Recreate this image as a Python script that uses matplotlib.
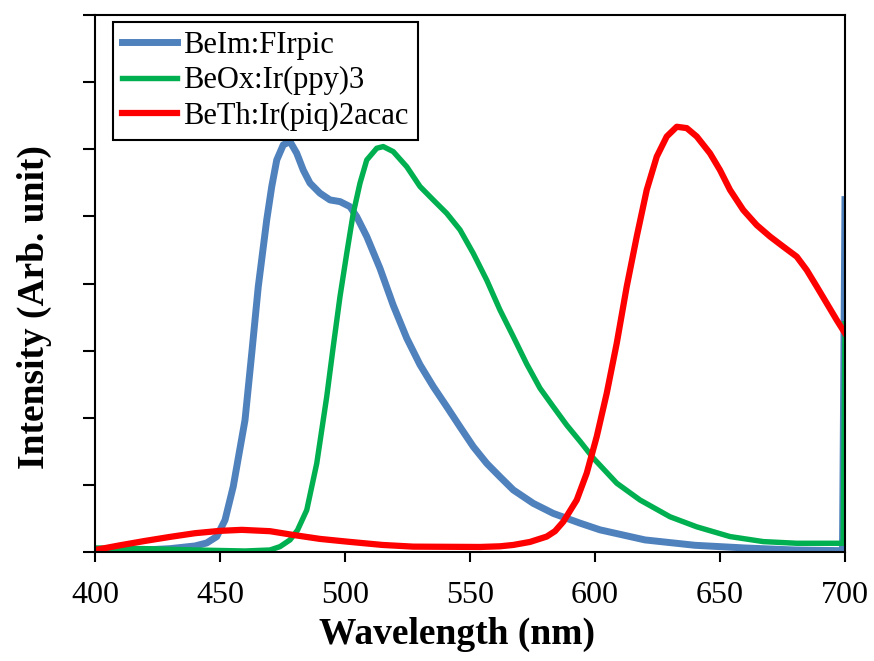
import numpy as np
import matplotlib
matplotlib.use("Agg")
import matplotlib.pyplot as plt

# ============================================================
# DATA (intensity in arbitrary units)
# ============================================================

wl_blue = [400, 420, 430, 440, 444.7, 448.7, 452, 455.3, 460, 462.7, 465.3, 468.7,
           470.7, 472.7, 475.3, 478, 480.7, 483.3, 486, 490, 494, 498, 502,
           504.7, 508.7, 514, 519.3, 524.7, 530, 535.3, 540.7, 546, 551.3, 556.7,
           562, 567.3, 575.3, 583.3, 594, 602, 620, 640, 660, 680, 699, 700]
int_blue = [0.005, 0.006, 0.01, 0.018, 0.027, 0.046, 0.095, 0.195, 0.393, 0.592,
            0.79, 0.99, 1.089, 1.168, 1.213, 1.223, 1.188, 1.138, 1.099, 1.069,
            1.049, 1.044, 1.029, 0.999, 0.94, 0.845, 0.735, 0.637, 0.558, 0.493,
            0.433, 0.373, 0.314, 0.264, 0.224, 0.185, 0.145, 0.115, 0.086, 0.066,
            0.036, 0.02, 0.012, 0.006, 0.004, 1.05]

wl_green = [400, 420, 440, 460, 470, 474, 478, 481, 484.7, 488.7, 492.7, 495.3,
            498, 500.7, 503.3, 506, 508.7, 512.7, 515.3, 519.3, 524.7, 530, 535.3,
            540.7, 546, 551.3, 556.7, 562, 567.3, 572.7, 578, 583.3, 588.7, 594,
            599.3, 608.7, 618, 630, 640.7, 654, 667.3, 680.7, 699.3, 700]
int_green = [0.012, 0.01, 0.006, 0.003, 0.006, 0.016, 0.036, 0.065, 0.125, 0.264,
             0.463, 0.612, 0.761, 0.89, 1.009, 1.099, 1.168, 1.203, 1.208, 1.193,
             1.148, 1.089, 1.049, 1.009, 0.96, 0.89, 0.81, 0.721, 0.642, 0.56,
             0.488, 0.433, 0.378, 0.33, 0.28, 0.205, 0.155, 0.105, 0.075, 0.046,
             0.031, 0.026, 0.026, 0.68]

wl_red = [400, 410, 420, 430, 440, 450, 458.7, 470, 480, 490, 500.7, 515, 527.3,
          554, 562, 567.3, 574, 580.7, 584, 587.3, 592.7, 596.7, 600.7, 604.7,
          608.7, 612.7, 616.7, 620.7, 624.7, 628.7, 632.7, 636.7, 640.7, 646,
          650, 654, 659.3, 664.7, 670, 675.3, 680.7, 684.7, 688.7, 692.7, 696.7, 700]
int_red = [0.006, 0.02, 0.033, 0.045, 0.056, 0.063, 0.066, 0.062, 0.05, 0.039,
           0.031, 0.021, 0.016, 0.015, 0.017, 0.021, 0.03, 0.046, 0.062, 0.09,
           0.155, 0.235, 0.344, 0.473, 0.622, 0.791, 0.94, 1.079, 1.178, 1.238,
           1.267, 1.263, 1.238, 1.188, 1.138, 1.079, 1.019, 0.974, 0.94, 0.91,
           0.88, 0.84, 0.791, 0.741, 0.691, 0.652]

labels = ["BeIm:FIrpic", "BeOx:Ir(ppy)3", "BeTh:Ir(piq)2acac"]
x_ticks = [400, 450, 500, 550, 600, 650, 700]

# ============================================================
# PLOT
# ============================================================

plt.rcParams["font.family"] = ["Liberation Serif", "DejaVu Serif"]

fig = plt.figure(figsize=(8.74, 6.61), dpi=100)
ax = fig.add_axes([0.1087, 0.1649, 0.8581, 0.8124])

ax.plot(wl_blue, int_blue, color="#4F81BD", lw=5.0, label=labels[0])
ax.plot(wl_green, int_green, color="#00B050", lw=3.9, label=labels[1])
ax.plot(wl_red, int_red, color="#FF0000", lw=4.5, label=labels[2])

ax.set_xlim(400, 700)
ax.set_ylim(0, 1.6)
ax.set_xticks(x_ticks)
ax.set_yticks(np.arange(0, 1.61, 0.2))
ax.set_yticklabels([])
ax.tick_params(axis="x", direction="out", length=7, width=1.5, labelsize=23, pad=14)
ax.tick_params(axis="y", direction="out", length=9, width=1.5)
for sp in ax.spines.values():
    sp.set_linewidth(1.5)

ax.set_xlabel("Wavelength (nm)", fontsize=27, fontweight="bold")
ax.set_ylabel("Intensity (Arb. unit)", fontsize=27, fontweight="bold")
ax.xaxis.set_label_coords(0.483, -0.121)
ax.yaxis.set_label_coords(-0.058, 0.456)

leg = ax.legend(loc="upper left", bbox_to_anchor=(0.024, 0.987), fontsize=22,
                frameon=True, fancybox=False, framealpha=1, borderpad=0.3,
                labelspacing=0.2, handlelength=1.8, handletextpad=0.2,
                borderaxespad=0)
leg.get_frame().set_edgecolor("black")
leg.get_frame().set_linewidth(1.5)

fig.savefig("out.png", dpi=100)
